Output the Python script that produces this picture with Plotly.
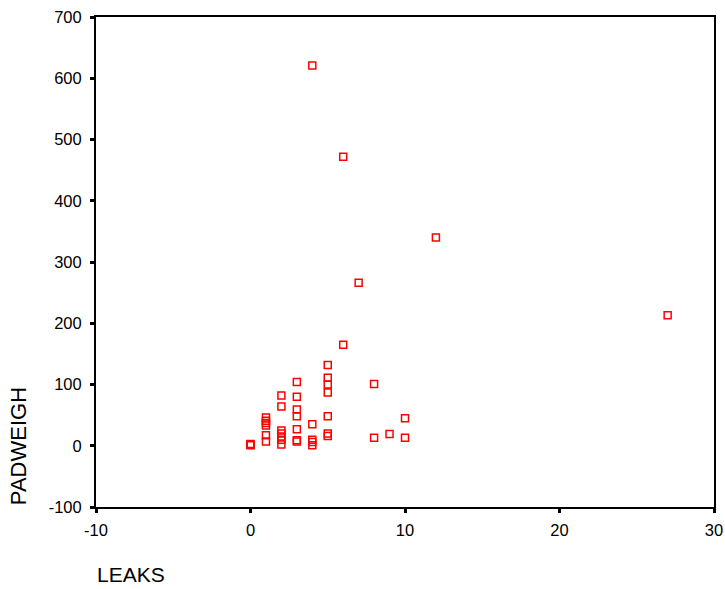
import plotly.graph_objects as go

leaks = [0, 0, 0,
         1, 1, 1, 1, 1, 1,
         2, 2, 2, 2, 2, 2, 2,
         3, 3, 3, 3, 3, 3, 3,
         4, 4, 4, 4, 4,
         5, 5, 5, 5, 5, 5, 5,
         6, 6, 7, 8, 8, 9, 10, 10, 12, 27]
padweigh = [3, 1, 2,
            46, 41, 37, 33, 17, 7,
            82, 64, 25, 20, 15, 10, 2,
            104, 80, 59, 48, 27, 9, 7,
            621, 35, 10, 6, 1,
            132, 111, 100, 87, 48, 20, 16,
            472, 165, 266, 101, 13, 19, 45, 13, 340, 213]

x_ticks = [-10, 0, 10, 20, 30]
y_ticks = [-100, 0, 100, 200, 300, 400, 500, 600, 700]

FONT = "Liberation Sans, Arial, sans-serif"

fig = go.Figure()
fig.add_trace(go.Scatter(
    x=leaks, y=padweigh, mode="markers",
    marker=dict(symbol="square-open", size=7, color="#ff0000", line=dict(width=1.5, color="#ff0000")),
    showlegend=False, hoverinfo="skip",
))

axis_common = dict(
    showgrid=False, zeroline=False, showline=True, linecolor="black", linewidth=2,
    mirror=True, ticks="outside", ticklen=4, tickwidth=3, tickcolor="black",
    tickfont=dict(family=FONT, size=16.5, color="black"), automargin=False,
)
fig.update_xaxes(range=[-10, 30], tickvals=x_ticks, ticktext=[str(v) for v in x_ticks],
                 ticklabelstandoff=3, **axis_common)
fig.update_yaxes(range=[-100, 700], tickvals=y_ticks, ticktext=[str(v) for v in y_ticks],
                 ticklabelstandoff=5, **axis_common)

fig.add_annotation(text="LEAKS", xref="paper", yref="paper", x=-0.002, y=-0.165,
                   xanchor="left", yanchor="bottom", showarrow=False,
                   font=dict(family=FONT, size=21, color="black"))
fig.add_annotation(text="PADWEIGH", xref="paper", yref="paper", x=-0.126, y=0.0,
                   xanchor="center", yanchor="bottom", textangle=-90, showarrow=False,
                   font=dict(family=FONT, size=22, color="black"))

fig.update_layout(
    template="none",
    width=725, height=589,
    margin=dict(l=96, r=11, t=17, b=82),
    plot_bgcolor="white", paper_bgcolor="white",
)
fig.write_html(
    "out.html",
    config={"displayModeBar": False, "staticPlot": True},
    post_script="document.body.style.margin='0';document.documentElement.style.overflow='hidden';",
)
